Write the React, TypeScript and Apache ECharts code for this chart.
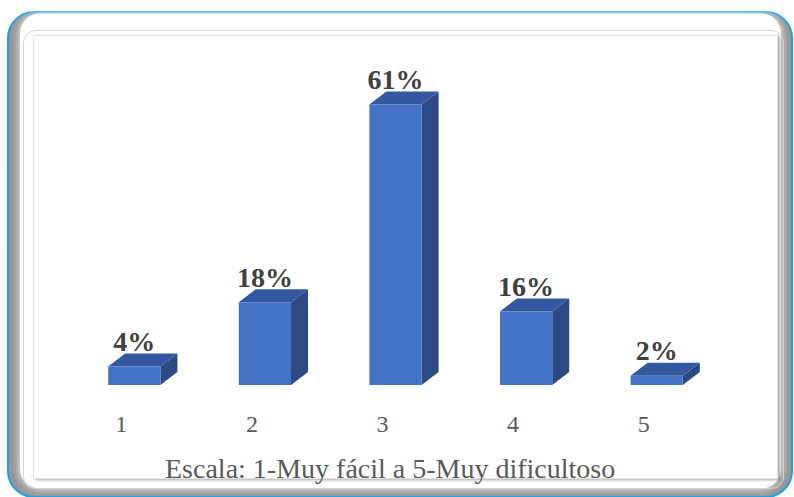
import React, { useEffect, useRef } from "react";
import * as echarts from "echarts";

const categories = ["1", "2", "3", "4", "5"];
const values = [4, 18, 61, 16, 2];
const titleText = "Escala: 1-Muy fácil a 5-Muy dificultoso";

const FONT = "Liberation Serif";
const DX = 17;
const DY = 13;

export default function App() {
  const ref = useRef<HTMLDivElement>(null);

  useEffect(() => {
    if (!ref.current) return;
    const chart = echarts.init(ref.current, null, { renderer: "svg" });

    const option: any = {
      animation: false,
      backgroundColor: "#ffffff",
      title: {
        text: titleText,
        left: 160,
        top: 449,
        textStyle: {
          fontFamily: FONT,
          fontSize: 28,
          fontWeight: "normal",
          color: "#595959",
        },
      },
      graphic: [
        {
          type: "rect",
          z: -10,
          shape: { x: 8, y: 12, width: 784, height: 485, r: 26 },
          style: { fill: "#969696", stroke: "#1BA1E2", lineWidth: 2 },
        },
        {
          type: "rect",
          z: -9,
          shape: { x: 20, y: 13.5, width: 761, height: 475, r: 20 },
          style: { fill: "#ffffff", shadowBlur: 8, shadowColor: "#ffffff" },
        },
        {
          type: "rect",
          z: -8,
          shape: { x: 23.5, y: 30.5, width: 760, height: 458, r: 12 },
          style: { fill: "none", stroke: "#d4d4d4", lineWidth: 1 },
        },
        {
          type: "rect",
          z: -7,
          shape: { x: 33.5, y: 35.5, width: 744, height: 443 },
          style: {
            fill: "#ffffff",
            stroke: "#e2e2e2",
            lineWidth: 1,
            shadowBlur: 3,
            shadowOffsetX: 2,
            shadowOffsetY: 1,
            shadowColor: "rgba(0,0,0,0.35)",
          },
        },
      ],
      grid: { left: 69, right: 72, top: 63, bottom: 112 },
      xAxis: {
        type: "category",
        data: categories,
        axisLine: { show: false },
        axisTick: { show: false },
        splitLine: { show: false },
        axisLabel: {
          margin: 27,
          fontFamily: FONT,
          fontSize: 24,
          color: "#595959",
          padding: [0, 26, 0, 0],
        },
      },
      yAxis: {
        type: "value",
        min: 0,
        max: 70,
        show: false,
        splitLine: { show: false },
      },
      series: [
        {
          type: "custom",
          data: values.map((v, i) => [i, v]),
          renderItem: (params: any, api: any) => {
            const idx = api.value(0);
            const val = api.value(1);
            const top = api.coord([idx, val]);
            const base = api.coord([idx, 0]);
            const bw = api.size([1, 0])[0] * 0.4;
            const x0 = top[0] - bw / 2;
            const x1 = top[0] + bw / 2;
            const yT = top[1];
            const yB = base[1];
            return {
              type: "group",
              children: [
                {
                  type: "polygon",
                  shape: {
                    points: [
                      [x1, yT],
                      [x1 + DX, yT - DY],
                      [x1 + DX, yB - DY],
                      [x1, yB],
                    ],
                  },
                  style: { fill: "#2B4A86" },
                },
                {
                  type: "polygon",
                  shape: {
                    points: [
                      [x0, yT],
                      [x0 + DX, yT - DY],
                      [x1 + DX, yT - DY],
                      [x1, yT],
                    ],
                  },
                  style: { fill: "#34589F" },
                },
                {
                  type: "rect",
                  shape: { x: x0, y: yT, width: bw, height: yB - yT },
                  style: { fill: "#4472C4" },
                },
                {
                  type: "text",
                  x: top[0],
                  y: yT - DY - 12,
                  style: {
                    text: `${values[idx]}%`,
                    fontFamily: FONT,
                    fontSize: 28,
                    fontWeight: "bold",
                    fill: "#404040",
                    align: "center",
                    verticalAlign: "middle",
                  },
                },
              ],
            };
          },
        },
      ],
    };

    chart.setOption(option);
    return () => chart.dispose();
  }, []);

  return (
    <div
      ref={ref}
      style={{ position: "absolute", left: 0, top: 0, width: 794, height: 497 }}
    />
  );
}
